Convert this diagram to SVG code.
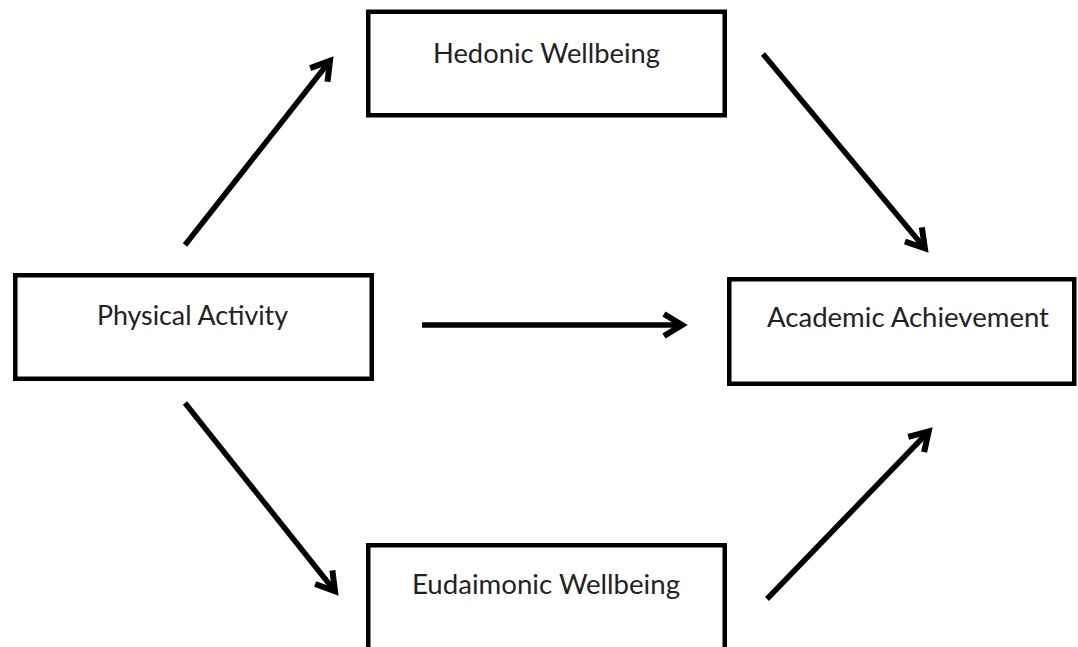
<svg xmlns="http://www.w3.org/2000/svg" width="1078" height="647" viewBox="0 0 1078 647">
  <style>
    .box { fill: #ffffff; stroke: #000000; stroke-width: 4.5; }
    .lbl { font-family: Lato, "Open Sans", "Liberation Sans", sans-serif; font-size: 26px; fill: #222222; text-anchor: middle; }
    .conn { stroke: #000000; stroke-width: 5.5; fill: none; }
  </style>
  <defs>
    <marker id="arrow" markerUnits="userSpaceOnUse" markerWidth="40" markerHeight="40" refX="0" refY="0" orient="auto" overflow="visible" viewBox="-30 -20 40 40">
      <path d="M-18,-11 L0,0 L-18,11" fill="none" stroke="#000000" stroke-width="6" stroke-linejoin="miter"/>
    </marker>
  </defs>
  <rect width="1078" height="647" fill="#ffffff"/>
  <g id="connectors">
    <line class="conn" x1="185" y1="245" x2="330" y2="60.8" marker-end="url(#arrow)"/>
    <line class="conn" x1="763" y1="54" x2="924.9" y2="248.3" marker-end="url(#arrow)"/>
    <line class="conn" x1="422" y1="325" x2="682" y2="325" marker-end="url(#arrow)"/>
    <line class="conn" x1="185" y1="403" x2="335" y2="591.2" marker-end="url(#arrow)"/>
    <line class="conn" x1="767" y1="599" x2="928.7" y2="431.5" marker-end="url(#arrow)"/>
  </g>
  <g id="physical-activity">
    <rect class="box" x="15.25" y="275.25" width="356.5" height="103.5"/>
    <text class="lbl" x="192.5" y="325" textLength="191" lengthAdjust="spacingAndGlyphs">Physical Activity</text>
  </g>
  <g id="hedonic-wellbeing">
    <rect class="box" x="368.25" y="11.75" width="356.5" height="103.5"/>
    <text class="lbl" x="546.5" y="63" textLength="227" lengthAdjust="spacingAndGlyphs">Hedonic Wellbeing</text>
  </g>
  <g id="academic-achievement">
    <rect class="box" x="729.25" y="279.25" width="345" height="104.5"/>
    <text class="lbl" x="908" y="327" textLength="282" lengthAdjust="spacingAndGlyphs">Academic Achievement</text>
  </g>
  <g id="eudaimonic-wellbeing">
    <rect class="box" x="368.25" y="545.25" width="356.5" height="105"/>
    <text class="lbl" x="546" y="594" textLength="268" lengthAdjust="spacingAndGlyphs">Eudaimonic Wellbeing</text>
  </g>
</svg>
